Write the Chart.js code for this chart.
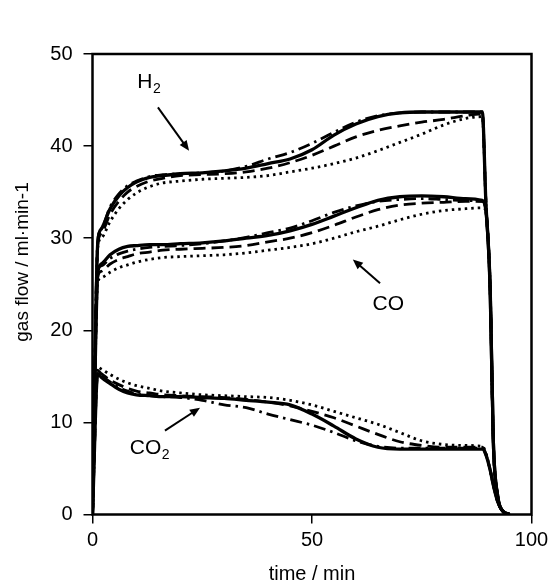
<!DOCTYPE html>
<html>
<head>
<meta charset="utf-8">
<script src="https://cdn.jsdelivr.net/npm/chart.js@4/dist/chart.umd.min.js"></script>
<style>
  html, body { margin: 0; padding: 0; background: #fff; }
  #wrap { width: 554px; height: 586px; position: relative; }
</style>
</head>
<body>
<div id="wrap"><canvas id="flowChart"></canvas></div>
<script>
// time axis (min), shared by every run
const times = [0, 1.2, 2, 4, 6, 8, 10, 13, 16, 20, 25, 30, 35, 40, 45, 50, 55, 60, 65, 70, 75, 80, 85, 88.8, 89.6, 90.6, 91.3, 92.3, 93.4, 95];

// H2 flow, four runs
const h2Solid   = [0, 29.5, 31, 33.2, 34.6, 35.5, 36.1, 36.6, 36.8, 37, 37.1, 37.3, 37.6, 38.1, 38.6, 39.6, 41.2, 42.4, 43.2, 43.6, 43.7, 43.7, 43.7, 43.7, 34, 24.4, 8, 2, 0.4, 0];
const h2Dashed  = [0, 29.3, 30.5, 32.6, 34, 35, 35.6, 36.2, 36.5, 36.8, 36.9, 37, 37.2, 37.6, 38.2, 39, 40, 41, 41.7, 42.2, 42.6, 42.9, 43.3, 43.5, 34, 24.4, 8, 2, 0.4, 0];
const h2DashDot = [0, 29.8, 31, 33.4, 34.8, 35.7, 36.2, 36.7, 36.9, 37, 37.1, 37.3, 37.8, 38.6, 39.3, 40.3, 41.5, 42.6, 43.3, 43.6, 43.7, 43.7, 43.7, 43.7, 34, 24.4, 8, 2, 0.4, 0];
const h2Dotted  = [0, 29, 30, 31.8, 33.2, 34.2, 34.9, 35.6, 36, 36.2, 36.4, 36.5, 36.6, 36.8, 37.2, 37.6, 38.1, 38.7, 39.5, 40.4, 41.3, 42.3, 43, 43.2, 34, 24.4, 8, 2, 0.4, 0];

// CO flow
const coSolid   = [0, 26.2, 27.2, 28.2, 28.8, 29.1, 29.2, 29.3, 29.3, 29.4, 29.5, 29.7, 30, 30.3, 30.8, 31.5, 32.4, 33.3, 34.1, 34.5, 34.6, 34.5, 34.3, 34.1, 33, 24, 8, 2, 0.4, 0];
const coDashed  = [0, 25.8, 26.4, 27.2, 27.7, 28, 28.3, 28.5, 28.7, 28.8, 28.9, 29, 29.2, 29.6, 30, 30.6, 31.4, 32.3, 33.1, 33.6, 33.8, 33.9, 34, 34, 33, 24, 8, 2, 0.4, 0];
const coDashDot = [0, 26.5, 27, 27.8, 28.3, 28.6, 28.8, 29, 29.1, 29.2, 29.4, 29.7, 30.1, 30.6, 31.1, 31.9, 32.8, 33.5, 34, 34.2, 34.3, 34.2, 34.1, 34, 33, 24, 8, 2, 0.4, 0];
const coDotted  = [0, 25.2, 25.7, 26.3, 26.8, 27.1, 27.4, 27.7, 27.9, 28, 28.1, 28.2, 28.4, 28.7, 29, 29.4, 30, 30.7, 31.3, 32, 32.6, 33, 33.2, 33.3, 33, 24, 8, 2, 0.4, 0];

// CO2 flow
const co2Solid   = [0, 15.3, 14.9, 14.2, 13.6, 13.2, 13, 12.9, 12.8, 12.8, 12.7, 12.6, 12.4, 12.2, 11.9, 10.9, 9.6, 8.2, 7.3, 7.1, 7.1, 7.1, 7.1, 7.1, 6.5, 4.8, 3.2, 1.4, 0.4, 0];
const co2Dashed  = [0, 15.6, 15.3, 14.6, 14.1, 13.7, 13.4, 13.2, 13, 12.9, 12.8, 12.7, 12.5, 12.2, 11.8, 11.2, 10.5, 9.6, 8.7, 7.9, 7.5, 7.3, 7.3, 7.3, 6.6, 4.8, 3.2, 1.4, 0.4, 0];
const co2DashDot = [0, 15.4, 15.1, 14.4, 13.8, 13.4, 13.1, 12.9, 12.8, 12.7, 12.4, 11.9, 11.6, 10.9, 10.3, 9.7, 8.9, 8, 7.4, 7.2, 7.2, 7.2, 7.2, 7.2, 6.5, 4.8, 3.2, 1.4, 0.4, 0];
const co2Dotted  = [0, 16, 15.8, 15.2, 14.7, 14.3, 14, 13.7, 13.4, 13.2, 13, 12.9, 12.8, 12.7, 12.4, 11.9, 11.2, 10.5, 9.8, 8.9, 8, 7.6, 7.5, 7.4, 6.7, 4.8, 3.2, 1.4, 0.4, 0];

const xTicks = [0, 50, 100];
const yTicks = [0, 10, 20, 30, 40, 50];

const FONT = "'Liberation Sans', Arial, sans-serif";

const styles = {
    solid:    { width: 3.3, dash: [] },
    dashed:   { width: 2.8, dash: [12, 6] },
    dashDot:  { width: 2.8, dash: [12, 5, 2.5, 5] },
    dotted:   { width: 2.8, dash: [2.5, 4] }
};

function makeSet(label, values, style) {
    const s = styles[style];
    return {
        label: label,
        data: times.map((t, i) => ({ x: t, y: values[i] })),
        borderColor: '#000',
        borderWidth: s.width,
        borderDash: s.dash,
        pointRadius: 0,
        cubicInterpolationMode: 'monotone',
        fill: false
    };
}

const datasets = [
    makeSet('H2 dotted', h2Dotted, 'dotted'),
    makeSet('CO dotted', coDotted, 'dotted'),
    makeSet('CO2 dotted', co2Dotted, 'dotted'),
    makeSet('H2 dashed', h2Dashed, 'dashed'),
    makeSet('CO dashed', coDashed, 'dashed'),
    makeSet('CO2 dashed', co2Dashed, 'dashed'),
    makeSet('H2 dash-dot', h2DashDot, 'dashDot'),
    makeSet('CO dash-dot', coDashDot, 'dashDot'),
    makeSet('CO2 dash-dot', co2DashDot, 'dashDot'),
    makeSet('H2', h2Solid, 'solid'),
    makeSet('CO', coSolid, 'solid'),
    makeSet('CO2', co2Solid, 'solid')
];

// labels with arrows, placed in data units
const notes = [
    { main: 'H', sub: '2', tx: 10.2, ty: 46.9, from: [14.9, 44.2], to: [22, 39.5] },
    { main: 'CO', sub: '',  tx: 63.8, ty: 22.8, from: [65.5, 25.1], to: [59.3, 27.7] },
    { main: 'CO', sub: '2', tx: 8.5, ty: 7.2, from: [16.5, 9.1], to: [24.5, 11.6] }
];

const extrasPlugin = {
    id: 'extras',
    afterDraw(chart) {
        const ctx = chart.ctx;
        const a = chart.chartArea;
        const xs = chart.scales.x, ys = chart.scales.y;
        ctx.save();
        // plot frame
        ctx.strokeStyle = '#000';
        ctx.lineWidth = 2.5;
        ctx.setLineDash([]);
        ctx.strokeRect(a.left, a.top, a.right - a.left, a.bottom - a.top);

        // notes
        ctx.fillStyle = '#000';
        ctx.textBaseline = 'middle';
        ctx.textAlign = 'left';
        notes.forEach(n => {
            const px = xs.getPixelForValue(n.tx), py = ys.getPixelForValue(n.ty);
            ctx.font = '21px ' + FONT;
            ctx.fillText(n.main, px, py);
            if (n.sub) {
                const w = ctx.measureText(n.main).width;
                ctx.font = '14px ' + FONT;
                ctx.fillText(n.sub, px + w + 0.5, py + 7);
            }
            const x1 = xs.getPixelForValue(n.from[0]), y1 = ys.getPixelForValue(n.from[1]);
            const x2 = xs.getPixelForValue(n.to[0]), y2 = ys.getPixelForValue(n.to[1]);
            const ang = Math.atan2(y2 - y1, x2 - x1);
            const head = 11;
            ctx.lineWidth = 2;
            ctx.beginPath();
            ctx.moveTo(x1, y1);
            ctx.lineTo(x2 - Math.cos(ang) * head * 0.8, y2 - Math.sin(ang) * head * 0.8);
            ctx.stroke();
            ctx.beginPath();
            ctx.moveTo(x2, y2);
            ctx.lineTo(x2 - head * Math.cos(ang - 0.4), y2 - head * Math.sin(ang - 0.4));
            ctx.lineTo(x2 - head * Math.cos(ang + 0.4), y2 - head * Math.sin(ang + 0.4));
            ctx.closePath();
            ctx.fill();
        });

        // y axis title
        ctx.font = '19px ' + FONT;
        ctx.textAlign = 'center';
        ctx.textBaseline = 'middle';
        ctx.translate(23, 262);
        ctx.rotate(-Math.PI / 2);
        ctx.fillText('gas flow / ml\u00B7min-1', 0, 0);
        ctx.restore();
    }
};

new Chart(document.getElementById('flowChart'), {
    type: 'line',
    data: { datasets: datasets },
    options: {
        responsive: true,
        maintainAspectRatio: false,
        animation: false,
        layout: { padding: { top: 54, right: 22.5, left: 0, bottom: 0 } },
        plugins: {
            legend: { display: false },
            tooltip: { enabled: false }
        },
        scales: {
            x: {
                type: 'linear',
                min: 0,
                max: 100,
                afterFit: s => { s.height = 71.5; },
                afterBuildTicks: s => { s.ticks = xTicks.map(v => ({ value: v })); },
                border: { display: false },
                grid: { drawOnChartArea: false, drawTicks: true, tickLength: 9, color: '#000', lineWidth: 1.5 },
                ticks: { color: '#000', padding: 5, font: { family: FONT, size: 20 } },
                title: { display: true, text: 'time / min', color: '#000', padding: { top: 4, bottom: 0 }, font: { family: FONT, size: 20 } }
            },
            y: {
                min: 0,
                max: 50,
                afterFit: s => { s.width = 92.5; },
                afterBuildTicks: s => { s.ticks = yTicks.map(v => ({ value: v })); },
                border: { display: false },
                grid: { drawOnChartArea: false, drawTicks: true, tickLength: 9, color: '#000', lineWidth: 1.5 },
                ticks: { color: '#000', padding: 11, font: { family: FONT, size: 20 } }
            }
        }
    },
    plugins: [extrasPlugin]
});
</script>
</body>
</html>
